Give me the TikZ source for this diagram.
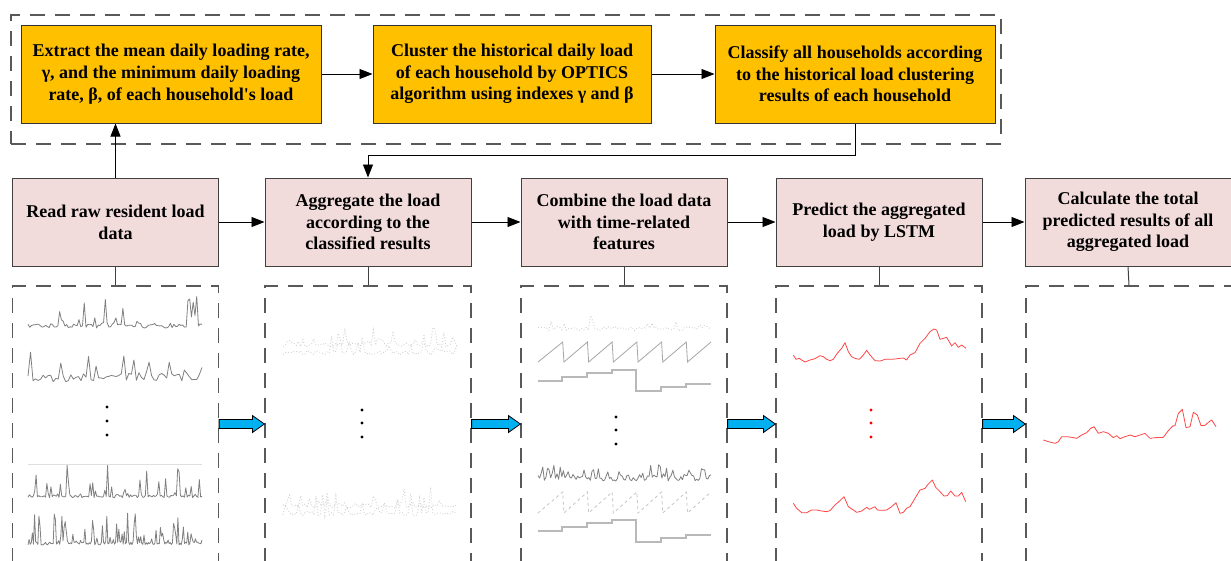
\documentclass[tikz,border=0pt]{standalone}
\usepackage{fontspec}
\newfontfamily\tfont{Liberation Serif}
\usetikzlibrary{arrows.meta,calc}
\definecolor{yellowc}{RGB}{255,192,0}
\definecolor{pinkc}{RGB}{242,220,219}
\definecolor{dashc}{RGB}{89,89,89}
\definecolor{bluec}{RGB}{0,176,240}
\definecolor{redc}{RGB}{255,70,70}
\definecolor{plotc}{RGB}{128,128,128}
\newcommand{\loadcurve}[7]{% style, x0, x1, baseline, noise, spike, samples
  \draw[#1] plot[domain=#2:#3, samples=#7] (\x,{#4 - #5*rnd - #6*rnd^7});}
\newcommand{\sawtooth}[5]{% style, x0, x1, top, bottom
  \draw[#1] (#2,#5) foreach \i in {1,...,6}{ -- ({#2+(#3-#2)/7*\i},#4) -- ({#2+(#3-#2)/7*\i+1.2},#5)} -- (#3,#4);}
\tikzset{
  txt/.style={font=\tfont\bfseries\fontsize{18}{21.7}\selectfont, align=center, inner sep=0pt},
  ybox/.style={txt, draw=black!80, line width=1pt, fill=yellowc, minimum height=98pt},
  pbox/.style={txt, draw=black!75, line width=1pt, fill=pinkc, minimum height=88pt, minimum width=206pt},
  dbox/.style={draw=dashc, line width=1.2pt, dash pattern=on 15pt off 10pt, minimum width=206pt, minimum height=276pt, inner sep=0pt},
  arr/.style={-{Triangle[length=13pt,width=10pt]}, line width=0.9pt},
  conn/.style={line width=1pt, draw=black!75},
  bluearrow/.style={fill=bluec, draw=black, line width=0.8pt, line join=miter},
  gline/.style={draw=plotc, line width=0.8pt, line join=round},
  faint/.style={draw=gray!35, line width=0.9pt, dotted},
  stepline/.style={draw=gray!55, line width=1.2pt},
  redline/.style={draw=redc, line width=0.8pt, line join=round}
}
\begin{document}
\begin{tikzpicture}[x=1pt,y=-1pt]
\useasboundingbox (0,0) rectangle (1231,560);
\fill[white] (0,0) rectangle (1231,560);
\pgfmathsetseed{11}

% top dashed container
\node[draw=dashc, line width=1.2pt, dash pattern=on 15pt off 10pt, minimum width=990pt, minimum height=129pt, inner sep=0pt] (T) at (506,79.5) {};

% yellow boxes
\node[ybox, minimum width=300pt] (Y1) at (171,74) {Extract the mean daily loading rate,\\ γ, and the minimum daily loading\\ rate, β, of each household's load};
\node[ybox, minimum width=278pt] (Y2) at (512,74) {Cluster the historical daily load\\ of each household by OPTICS\\ algorithm using indexes γ and β};
\node[ybox, minimum width=280pt] (Y3) at (855,74) {Classify all households according\\ to the historical load clustering\\ results of each household};

% pink boxes
\node[pbox] (P1) at (115.5,222) {Read raw resident load\\ data};
\node[pbox] (P2) at (368,222) {Aggregate the load\\ according to the\\ classified results};
\node[pbox] (P3) at (624,222) {Combine the load data\\ with time-related\\ features};
\node[pbox] (P4) at (879,222) {Predict the aggregated\\ load by LSTM};
\node[pbox] (P5) at (1128,222) {Calculate the total\\ predicted results of all\\ aggregated load};

% dashed plot boxes
\node[dbox] (D1) at (115.5,424) {};
\node[dbox] (D2) at (368,424) {};
\node[dbox] (D3) at (624,424) {};
\node[dbox] (D4) at (879,424) {};
\node[dbox] (D5) at (1129,424) {};

% arrows in top row
\draw[arr] (Y1.east) -- (Y2.west);
\draw[arr] (Y2.east) -- (Y3.west);
\draw[arr] (P1.north) -- (P1.north |- Y1.south);
\coordinate (elb) at (855,155);
\draw[arr] (Y3.south) -- (Y3.south |- elb) -| (P2.north);

% arrows between pink boxes
\draw[arr] (P1.east) -- (P2.west);
\draw[arr] (P2.east) -- (P3.west);
\draw[arr] (P3.east) -- (P4.west);
\draw[arr] (P4.east) -- (P5.west);

% pink to dashed
\foreach \k in {1,...,5}{\draw[conn] (P\k.south) -- (D\k.north);}

% blue arrows
\foreach \a/\b in {D1/D2,D2/D3,D3/D4,D4/D5}{
  \path let \p1=(\a.east), \p2=(\b.west) in
    [bluearrow] (\x1,\y1+4.5pt) -- (\x2-12pt,\y1+4.5pt) -- (\x2-12pt,\y1+8.5pt) -- (\x2,\y1) -- (\x2-12pt,\y1-8.5pt) -- (\x2-12pt,\y1-4.5pt) -- (\x1,\y1-4.5pt) -- cycle;
}

% ---- box 1 plots
\loadcurve{gline}{28}{202}{328}{4}{30}{100}
\loadcurve{gline}{28}{202}{382}{9}{24}{70}
\fill (107,407) circle (1.7pt) (107,421) circle (1.7pt) (107,435) circle (1.7pt);
\draw[gray!25, line width=0.6pt] (28,464) -- (202,464);
\loadcurve{gline}{28}{202}{498}{3}{32}{130}
\loadcurve{gline}{28}{202}{545}{3}{30}{160}

% ---- box 2 plots (faint)
\loadcurve{faint}{283}{457}{355}{4}{24}{80}
\loadcurve{faint}{283}{457}{347}{4}{18}{80}
\fill (362,410) circle (1.7pt) (362,423) circle (1.7pt) (362,437) circle (1.7pt);
\loadcurve{faint}{283}{457}{516}{4}{26}{80}
\loadcurve{faint}{283}{457}{508}{4}{18}{80}

% ---- box 3 plots
\loadcurve{faint}{538}{711}{331}{4}{14}{80}
\sawtooth{draw=gray!70, line width=0.8pt}{538}{711}{342}{362}
\draw[stepline] (538,381) -| (562,377) -| (587,373) -| (612,370) -| (636,391) -| (661,387) -| (686,384) -- (711,384);
\fill (616,417) circle (1.7pt) (616,430) circle (1.7pt) (616,444) circle (1.7pt);
\loadcurve{gline}{538}{711}{481}{6}{16}{110}
\sawtooth{draw=gray!45, line width=0.8pt, dashed}{538}{711}{492}{513}
\draw[stepline] (538,531) -| (562,527) -| (587,523) -| (612,520) -| (636,542) -| (661,538) -| (686,535) -- (711,535);

% ---- box 4 plots (red)
\begin{scope}[shift={(770,260)}, scale=1/3]
\draw[redline] plot coordinates {(70,285) (78,298) (88,295) (95,300) (105,306) (120,300) (135,296) (150,287) (160,290) (170,298) (180,302) (190,298) (200,282) (215,265) (225,248) (235,275) (245,290) (255,295) (268,298) (280,285) (290,271) (300,285) (315,302) (330,303) (345,298) (360,298) (375,297) (390,295) (400,294) (410,300) (420,285) (435,278) (450,250) (465,235) (480,215) (492,207) (500,210) (510,238) (520,235) (530,232) (545,258) (555,248) (565,262) (575,255) (588,265)};
\draw[redline] plot coordinates {(70,730) (80,745) (95,758) (110,758) (125,750) (140,750) (155,753) (170,755) (180,752) (195,735) (210,722) (222,710) (235,740) (250,750) (260,757) (275,753) (290,742) (298,748) (305,745) (315,740) (322,750) (335,751) (350,750) (365,740) (378,728) (390,760) (400,757) (410,745) (420,740) (435,715) (450,690) (465,685) (475,672) (487,660) (497,682) (510,695) (522,708) (532,707) (542,693) (555,708) (565,708) (575,697) (587,725)};
\end{scope}
\fill[red] (871,410) circle (1.7pt) (871,423) circle (1.7pt) (871,437) circle (1.7pt);

% ---- box 5 plot (red)
\begin{scope}[shift={(1000,260)}, scale=1/3]
\draw[redline] plot coordinates {(130,540) (145,545) (165,550) (175,545) (185,530) (200,530) (215,532) (230,535) (245,525) (260,518) (272,505) (282,500) (295,520) (310,515) (325,520) (340,533) (350,527) (360,536) (375,530) (390,525) (405,530) (420,525) (435,520) (450,535) (465,533) (490,532) (505,512) (518,498) (525,497) (535,460) (547,448) (558,503) (570,500) (580,457) (592,465) (603,497) (615,496) (625,487) (635,480) (648,500)};
\end{scope}
\end{tikzpicture}
\end{document}
